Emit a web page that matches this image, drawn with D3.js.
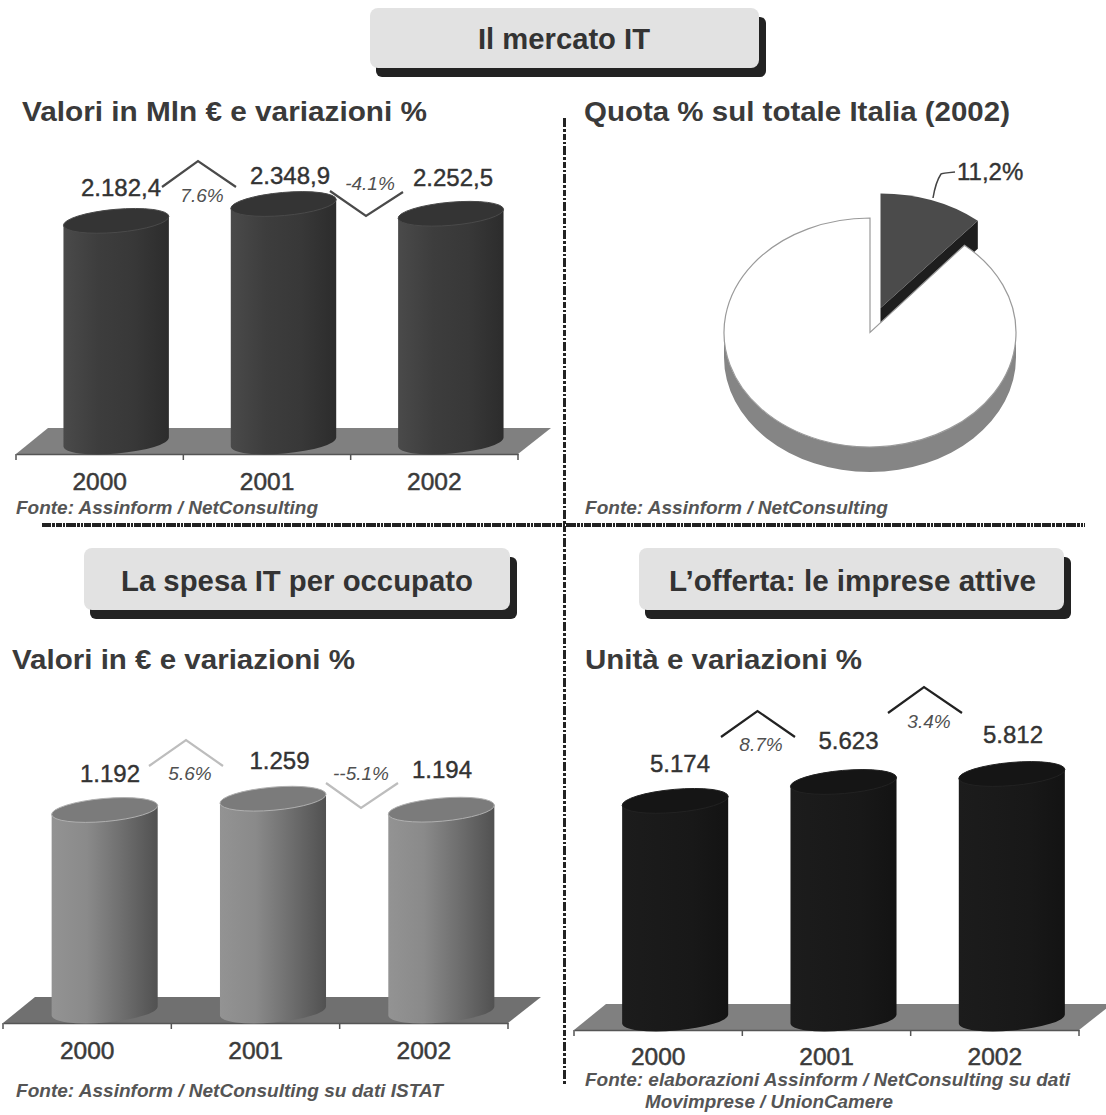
<!DOCTYPE html>
<html lang="it">
<head>
<meta charset="utf-8">
<title>Il mercato IT</title>
<script src="https://cdn.jsdelivr.net/npm/d3@7/dist/d3.min.js"></script>
<style>
  html, body { margin: 0; padding: 0; background: #fff; }
  svg { display: block; font-family: "Liberation Sans", Arial, sans-serif; }
</style>
</head>
<body>
<svg id="chart" width="1106" height="1115"></svg>
<script>
// Values read per panel
const years = ["2000", "2001", "2002"];
const marketValues = [2182.4, 2348.9, 2252.5];
const marketLabels = ["2.182,4", "2.348,9", "2.252,5"];
const marketChanges = ["7.6%", "-4.1%"];
const spendValues = [1192, 1259, 1194];
const spendLabels = ["1.192", "1.259", "1.194"];
const spendChanges = ["5.6%", "--5.1%"];
const firmValues = [5174, 5623, 5812];
const firmLabels = ["5.174", "5.623", "5.812"];
const firmChanges = ["8.7%", "3.4%"];
const shareValues = [11.2, 88.8];
const shareLabel = "11,2%";

const svg = d3.select("#chart");
const defs = svg.append("defs");

function addText(parent, t, x, y, size, o = {}) {
  const el = parent.append("text")
    .attr("x", x).attr("y", y)
    .attr("font-size", size)
    .attr("fill", o.fill || "#333")
    .attr("font-weight", o.weight || "normal")
    .attr("font-style", o.italic ? "italic" : "normal")
    .attr("text-anchor", o.anchor || "start")
    .text(t);
  if (o.fit) el.attr("textLength", o.fit).attr("lengthAdjust", "spacingAndGlyphs");
  if (o.heavy) el.attr("stroke", o.fill || "#333").attr("stroke-width", o.heavy);
  return el;
}

// Heading plates with a hard drop shadow
function plate(x0, x1, y0, y1, label, tx, tw, base) {
  svg.append("rect").attr("x", x0 + 6).attr("y", y0 + 9)
    .attr("width", x1 - x0 + 1).attr("height", y1 - y0)
    .attr("rx", 6).attr("fill", "#222");
  svg.append("rect").attr("x", x0).attr("y", y0)
    .attr("width", x1 - x0).attr("height", y1 - y0)
    .attr("rx", 8).attr("fill", "#e2e2e2");
  addText(svg, label, tx, base, 29, { weight: "bold", fit: tw });
}
plate(370, 759, 8, 68, "Il mercato IT", 478, 172, 49);
plate(84, 510, 548, 610, "La spesa IT per occupato", 121, 352, 591);
plate(639, 1064, 548, 610, "L\u2019offerta: le imprese attive", 669, 367, 591);

// Section rules
const rulePattern = "9 1 3 1 6 1 2 1 10 1 3 1 2 1 7 1";
svg.append("line").attr("x1", 42).attr("x2", 1085).attr("y1", 525).attr("y2", 525)
  .attr("stroke", "#222").attr("stroke-width", 4).attr("stroke-dasharray", rulePattern);
svg.append("line").attr("x1", 564.5).attr("x2", 564.5).attr("y1", 118).attr("y2", 1086)
  .attr("stroke", "#222").attr("stroke-width", 3).attr("stroke-dasharray", "9 2 3 2 6 2 2 2");

// Sub-headings
const sub = { weight: "bold", fill: "#3a3a3a" };
addText(svg, "Valori in Mln \u20ac e variazioni %", 22, 121, 28, { ...sub, fit: 405 });
addText(svg, "Quota % sul totale Italia (2002)", 584, 121, 28, { ...sub, fit: 426 });
addText(svg, "Valori in \u20ac e variazioni %", 12, 669, 28, { ...sub, fit: 343 });
addText(svg, "Unit\u00e0 e variazioni %", 585, 669, 28, { ...sub, fit: 277 });

// Sources
const src = { weight: "bold", italic: true, fill: "#555" };
addText(svg, "Fonte: Assinform / NetConsulting", 16, 514, 18, { ...src, fit: 302 });
addText(svg, "Fonte: Assinform / NetConsulting", 585, 514, 18, { ...src, fit: 303 });
addText(svg, "Fonte: Assinform / NetConsulting su dati ISTAT", 16, 1097, 18, { ...src, fit: 427 });
addText(svg, "Fonte: elaborazioni Assinform / NetConsulting su dati", 585, 1086, 18, { ...src, fit: 485 });
addText(svg, "Movimprese / UnionCamere", 645, 1108, 18, { ...src, fit: 248 });

// One 3D-looking cylinder column panel
function columns(p) {
  const g = svg.append("g");
  const x = d3.scaleBand().domain(years).range([p.x0, p.x1]);
  const y = d3.scaleLinear().domain([0, d3.max(p.values)]).range([p.base, p.topAtMax]);
  const floor = [[p.x0, p.axisY], [p.x1, p.axisY], [p.x1 + 33, p.axisY - 26], [p.x0 + 32, p.axisY - 26]];
  g.append("path").attr("d", d3.line()(floor) + "Z").attr("fill", p.floor);

  // Category axis: labels centred in each band, separators on the band edges
  const axis = g.append("g").attr("transform", `translate(0,${p.axisY})`)
    .call(d3.axisBottom(x).tickSize(0).tickPadding(p.yearPad));
  axis.select(".domain").attr("stroke", "#555").attr("stroke-width", 1.5);
  axis.selectAll("text").attr("font-size", 24.5).attr("font-family", "inherit")
    .attr("fill", "#3a3a3a").attr("stroke", "#3a3a3a").attr("stroke-width", 0.5);
  g.selectAll("line.sep").data(d3.range(years.length + 1)).join("line").attr("class", "sep")
    .attr("x1", i => p.x0 + i * x.step()).attr("x2", i => p.x0 + i * x.step())
    .attr("y1", p.axisY).attr("y2", p.axisY + 6)
    .attr("stroke", "#555").attr("stroke-width", 1.5);

  const gradId = "grad-" + p.id;
  const grad = defs.append("linearGradient").attr("id", gradId);
  p.stops.forEach((c, i) => grad.append("stop")
    .attr("offset", i / (p.stops.length - 1)).attr("stop-color", c));

  const rx = x.bandwidth() * 0.315, ry = 11.5, tilt = -5;
  const dy = rx * Math.sin(5 * Math.PI / 180);
  p.values.forEach((v, i) => {
    const cx = x(years[i]) + x.bandwidth() / 2 + p.shift;
    const ty = y(v);
    g.append("path").attr("fill", `url(#${gradId})`)
      .attr("d", `M${cx - rx},${ty + dy} L${cx - rx},${p.base + dy} ` +
        `A${rx},${ry} ${tilt} 0 0 ${cx + rx},${p.base - dy} L${cx + rx},${ty - dy} Z`);
    g.append("path").attr("fill", p.top).attr("stroke", p.rim).attr("stroke-width", 1)
      .attr("d", `M${cx - rx},${ty + dy} A${rx},${ry} ${tilt} 1 1 ${cx + rx},${ty - dy} ` +
        `A${rx},${ry} ${tilt} 1 1 ${cx - rx},${ty + dy} Z`);
  });

  p.labels.forEach((t, i) => addText(g, t, p.labelX[i], p.labelY[i], 24, { anchor: "middle", heavy: 0.4 }));

  // Change chevrons and their percentages
  const chevron = d3.line();
  p.changes.forEach((t, i) => {
    const c = p.chev[i];
    g.append("path").attr("d", chevron(c.pts)).attr("fill", "none")
      .attr("stroke", p.chevColor).attr("stroke-width", 2.2);
    addText(g, t, c.tx, c.ty, 19, { anchor: "middle", italic: true, fill: "#505050" });
  });
}

columns({
  id: "market", values: marketValues, labels: marketLabels, changes: marketChanges,
  x0: 16, x1: 518, axisY: 454, base: 442, topAtMax: 204, shift: 16.5, yearPad: 19,
  floor: "#808080", stops: ["#4a4a4a", "#3d3d3d", "#383838", "#2c2c2c"], top: "#343434", rim: "#4a4a4a",
  labelX: [121, 290, 453], labelY: [196, 184, 186], chevColor: "#4a4a4a",
  chev: [
    { pts: [[162, 187], [198, 161], [236, 187]], tx: 202, ty: 202 },
    { pts: [[330, 191], [366, 216], [403, 192]], tx: 370, ty: 190 }
  ]
});
columns({
  id: "spend", values: spendValues, labels: spendLabels, changes: spendChanges,
  x0: 3, x1: 508, axisY: 1023, base: 1011, topAtMax: 798.7, shift: 17.5, yearPad: 19,
  floor: "#707070", stops: ["#939393", "#8a8a8a", "#6e6e6e", "#515151"], top: "#7b7b7b", rim: "#b0b0b0",
  labelX: [110, 279.5, 442], labelY: [782, 769, 778], chevColor: "#bdbdbd",
  chev: [
    { pts: [[149, 766], [186, 740], [223, 766]], tx: 190, ty: 780 },
    { pts: [[326, 783], [361, 808], [398, 783]], tx: 361, ty: 780 }
  ]
});
columns({
  id: "firms", values: firmValues, labels: firmLabels, changes: firmChanges,
  x0: 574, x1: 1079, axisY: 1030, base: 1019, topAtMax: 774, shift: 17, yearPad: 18,
  floor: "#808080", stops: ["#1c1c1c", "#1a1a1a", "#181818", "#131313"], top: "#151515", rim: "#222",
  labelX: [680, 848.5, 1013], labelY: [772, 749, 743], chevColor: "#222",
  chev: [
    { pts: [[721, 737], [757.5, 711], [795, 737]], tx: 761, ty: 751 },
    { pts: [[888, 713], [924, 687], [962, 713]], tx: 929, ty: 728 }
  ]
});

// Exploded pie in perspective
const pieX = 870, pieY = 332.5, pieRx = 146, pieRy = 114.5, pieDepth = 25;
const apexX = 880.5, apexY = 308, sliceGrow = 1.03, sideDepth = 28;
const arcs = d3.pie().sort(null)(shareValues);
const arc = d3.arc().innerRadius(0).outerRadius(pieRx);
const pieG = svg.append("g");

pieG.append("path").attr("fill", "#858585")
  .attr("d", `M${pieX - pieRx},${pieY} A${pieRx},${pieRy} 0 0 0 ${pieX + pieRx},${pieY} ` +
    `L${pieX + pieRx},${pieY + pieDepth} A${pieRx},${pieRy} 0 0 1 ${pieX - pieRx},${pieY + pieDepth} Z`);

const a = arcs[0].endAngle;
const tipX = apexX + pieRx * sliceGrow * Math.sin(a);
const tipY = apexY - pieRy * Math.cos(a);
pieG.append("path").attr("fill", "#1e1e1e")
  .attr("d", d3.line()([[apexX, apexY], [tipX, tipY], [tipX, tipY + sideDepth], [apexX, apexY + sideDepth]]) + "Z");

pieG.append("path")
  .attr("transform", `translate(${pieX},${pieY}) scale(1,${pieRy / pieRx})`)
  .attr("d", arc(arcs[1]))
  .attr("fill", "#fff").attr("stroke", "#9a9a9a").attr("stroke-width", 1.2)
  .attr("vector-effect", "non-scaling-stroke");
pieG.append("path")
  .attr("transform", `translate(${apexX},${apexY}) scale(${sliceGrow},${pieRy / pieRx})`)
  .attr("d", arc(arcs[0]))
  .attr("fill", "#4b4b4b");

pieG.append("path").attr("d", d3.line().curve(d3.curveMonotoneY)([[933, 198], [941, 174], [955, 172]]))
  .attr("fill", "none").attr("stroke", "#444").attr("stroke-width", 1.5);
addText(pieG, shareLabel, 957, 180, 24, { heavy: 0.4 });
</script>
</body>
</html>
